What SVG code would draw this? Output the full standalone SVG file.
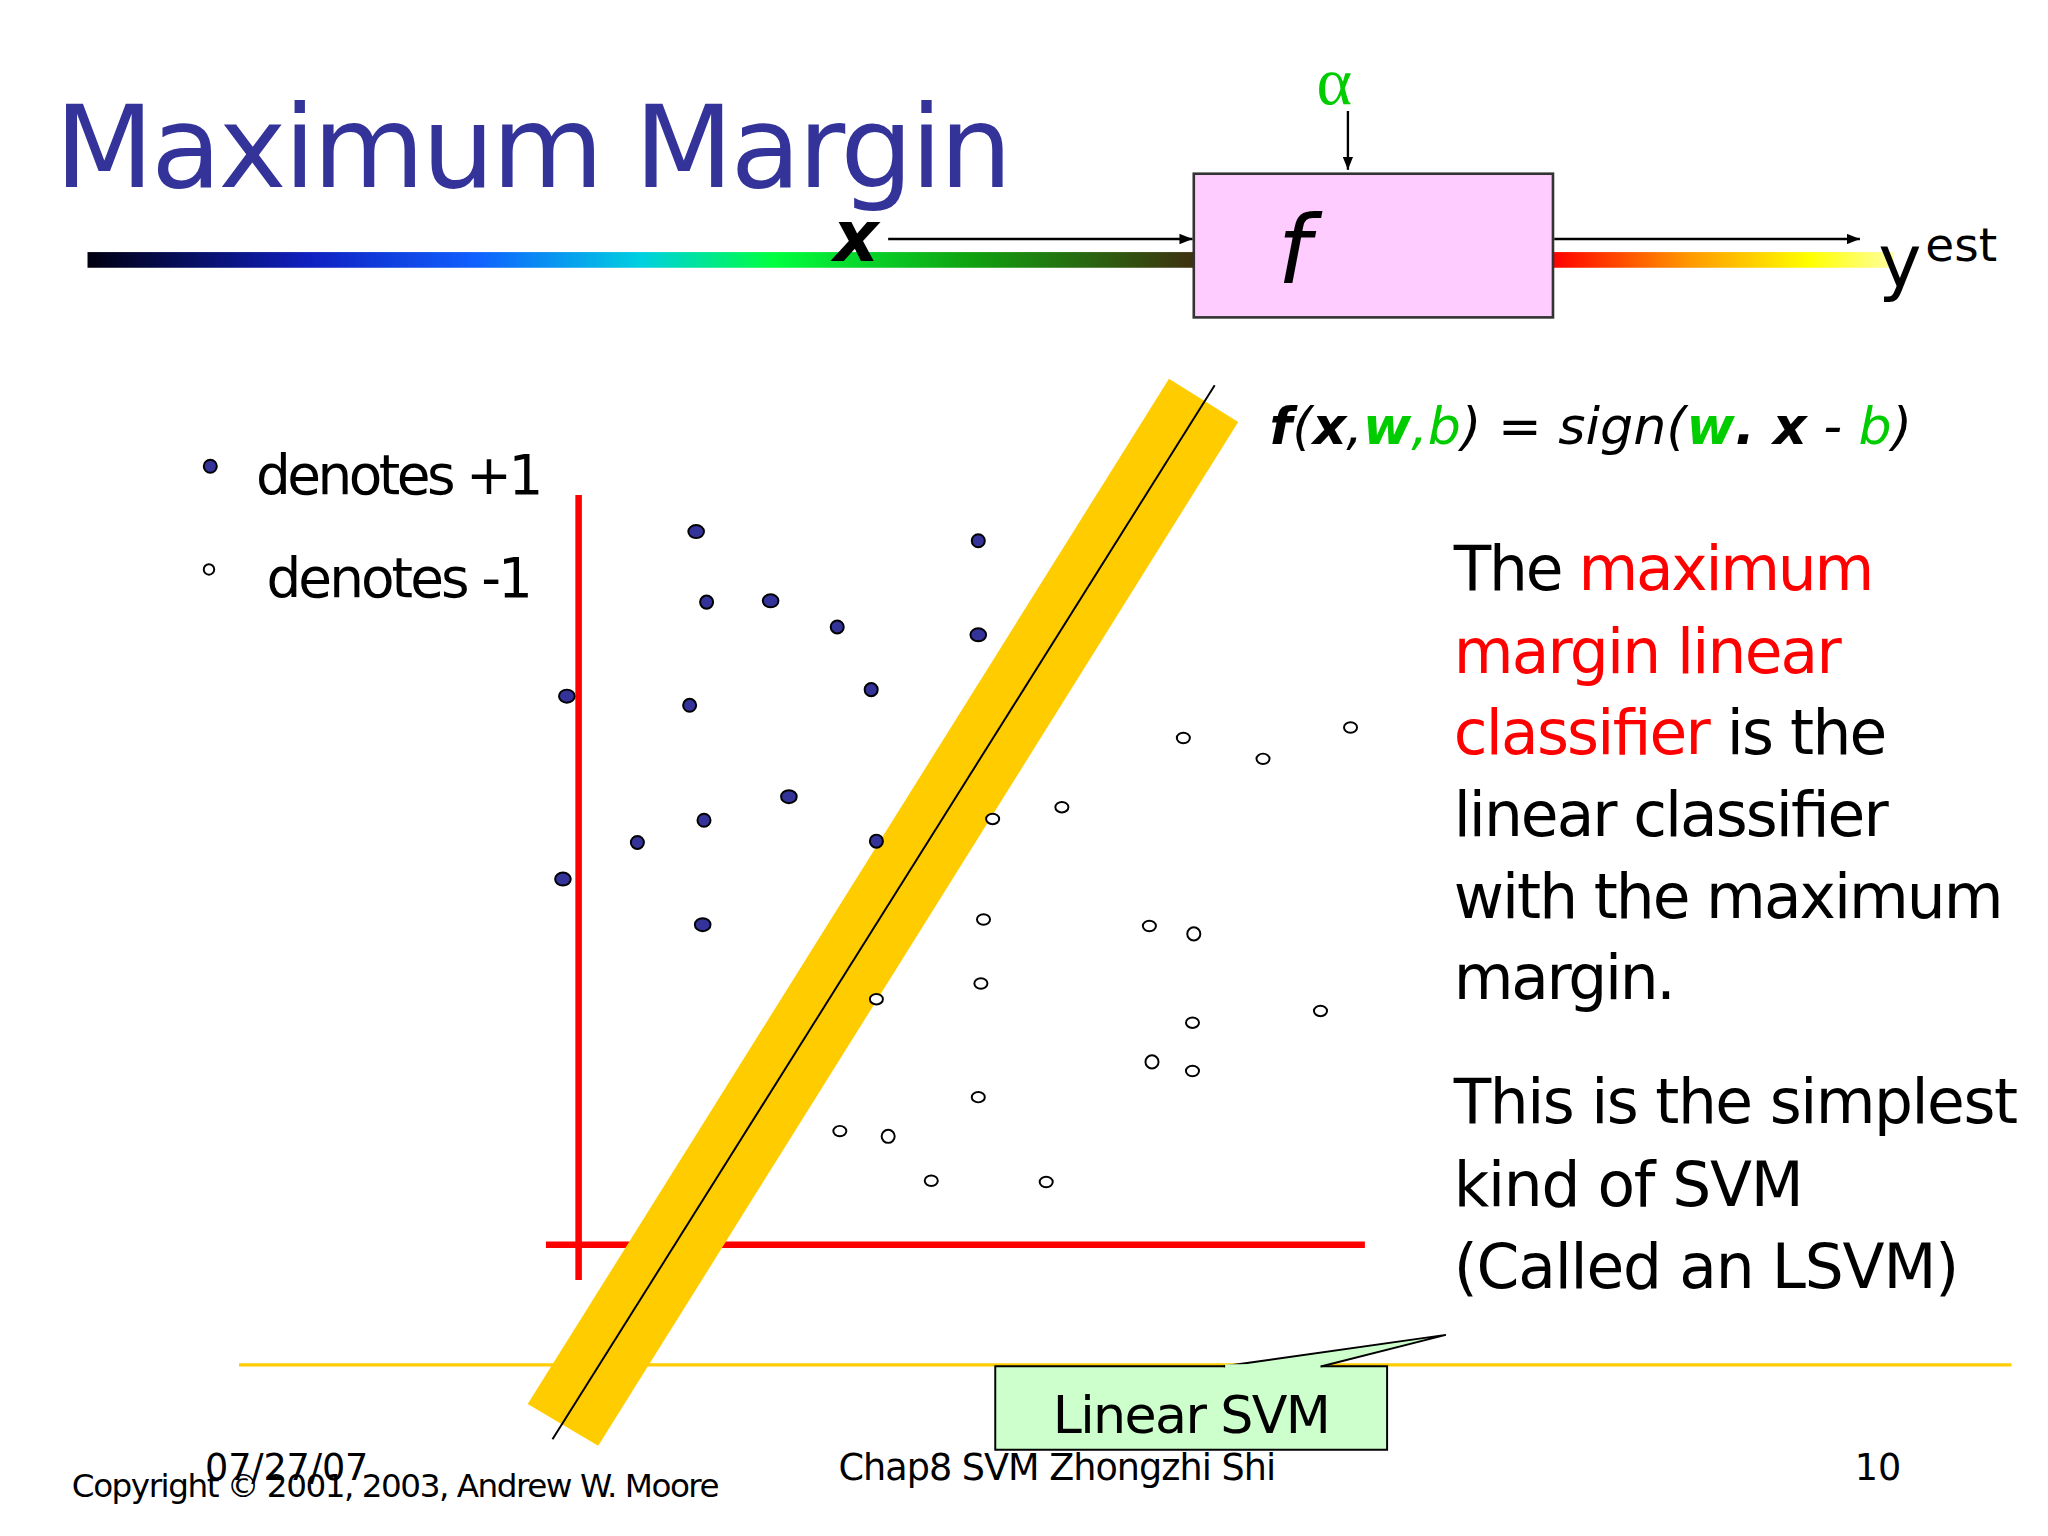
<svg xmlns="http://www.w3.org/2000/svg" width="2048" height="1536" viewBox="0 0 2048 1536">
<defs>
<linearGradient id="g1" x1="0" x2="1" y1="0" y2="0">
<stop offset="0" stop-color="#000010"/><stop offset="0.2" stop-color="#1020c0"/><stop offset="0.35" stop-color="#1060ff"/><stop offset="0.5" stop-color="#00d0e0"/><stop offset="0.62" stop-color="#00ff40"/><stop offset="0.8" stop-color="#10a010"/><stop offset="1" stop-color="#403010"/>
</linearGradient>
<linearGradient id="g2" x1="0" x2="1" y1="0" y2="0">
<stop offset="0" stop-color="#ff0000"/><stop offset="0.4" stop-color="#ff9900"/><stop offset="0.75" stop-color="#ffff00"/><stop offset="1" stop-color="#ffffa0"/>
</linearGradient>
<marker id="ah" markerWidth="10" markerHeight="8" refX="10" refY="4" orient="auto" markerUnits="userSpaceOnUse"><path d="M0,0 L10,4 L0,8 z" fill="#000"/></marker>
<style>
.t{font-family:"DejaVu Sans",Verdana,sans-serif}
.p{fill:#333399;stroke:#000;stroke-width:1.5}
.n{fill:#fff;stroke:#000;stroke-width:1.5}
.r{font-family:"DejaVu Sans",Verdana,sans-serif;font-size:47px;fill:#000}
.red{fill:#ff0000}
</style>
</defs>
<rect width="2048" height="1536" fill="#fff"/>
<g transform="scale(1.30612)">
<g id="title"><text class="t" x="42" y="143" font-size="88" fill="#333399" textLength="733">Maximum Margin</text></g>
<g id="bars">
<rect x="67" y="193" width="848" height="12" fill="url(#g1)"/>
<rect x="1189" y="193" width="261" height="12" fill="url(#g2)"/>
<line x1="183" y1="1045" x2="1540" y2="1045" stroke="#ffcc00" stroke-width="2.5"/>
</g>
<g id="box-f"><rect x="914" y="133" width="275" height="110" fill="#ffccff" stroke="#333" stroke-width="2"/>
<text class="t" x="978" y="217" font-size="72" font-style="italic">f</text></g>
<g id="alpha"><text x="1008" y="80" font-family="Liberation Serif,serif" font-size="52" fill="#00cc00">α</text></g>
<g id="xin"><text class="t" x="638" y="200" font-size="54" font-weight="bold" font-style="italic">x</text></g>
<g id="yest"><text class="t" x="1438" y="220" font-size="56">y</text><text class="t" x="1474" y="200" font-size="36">est</text></g>
<g id="connectors" stroke="#000" stroke-width="1.8" fill="none">
<line x1="1032" y1="85" x2="1032" y2="130" marker-end="url(#ah)"/>
<line x1="680" y1="183" x2="913" y2="183" marker-end="url(#ah)"/>
<line x1="1190" y1="183" x2="1424" y2="183" marker-end="url(#ah)"/>
</g>
<g id="formula"><text class="t" x="972" y="340" font-size="40" font-style="italic" textLength="492"><tspan font-weight="bold">f</tspan>(<tspan font-weight="bold">x</tspan>,<tspan font-weight="bold" fill="#00cc00">w</tspan><tspan fill="#00cc00">,b</tspan>) = sign(<tspan font-weight="bold" fill="#00cc00">w</tspan><tspan font-weight="bold">. x</tspan> - <tspan fill="#00cc00">b</tspan>)</text></g>
<g id="legend">
<ellipse class="p" cx="161" cy="357" rx="5" ry="5"/><text class="t" x="196" y="378" font-size="42" textLength="220">denotes +1</text>
<ellipse class="n" cx="160" cy="436" rx="4" ry="4"/><text class="t" x="204" y="457" font-size="42" textLength="204">denotes -1</text>
</g>
<g id="axes" stroke="#ff0000" stroke-width="5"><line x1="443" y1="379" x2="443" y2="980"/><line x1="418" y1="953" x2="1045" y2="953"/></g>
<g id="band"><polygon points="895,290 948,323 458,1107 404,1075" fill="#ffcc00"/><line x1="423" y1="1102" x2="930" y2="295" stroke="#000" stroke-width="1.5"/></g>
<g id="points">
<ellipse class="p" cx="533" cy="407" rx="6" ry="5"/><ellipse class="p" cx="749" cy="414" rx="5" ry="5"/><ellipse class="p" cx="541" cy="461" rx="5" ry="5"/><ellipse class="p" cx="590" cy="460" rx="6" ry="5"/><ellipse class="p" cx="641" cy="480" rx="5" ry="5"/><ellipse class="p" cx="749" cy="486" rx="6" ry="5"/><ellipse class="p" cx="434" cy="533" rx="6" ry="5"/><ellipse class="p" cx="528" cy="540" rx="5" ry="5"/><ellipse class="p" cx="667" cy="528" rx="5" ry="5"/><ellipse class="p" cx="604" cy="610" rx="6" ry="5"/><ellipse class="p" cx="539" cy="628" rx="5" ry="5"/><ellipse class="p" cx="488" cy="645" rx="5" ry="5"/><ellipse class="p" cx="671" cy="644" rx="5" ry="5"/><ellipse class="p" cx="431" cy="673" rx="6" ry="5"/><ellipse class="p" cx="538" cy="708" rx="6" ry="5"/>
<ellipse class="n" cx="906" cy="565" rx="5" ry="4"/><ellipse class="n" cx="967" cy="581" rx="5" ry="4"/><ellipse class="n" cx="1034" cy="557" rx="5" ry="4"/><ellipse class="n" cx="813" cy="618" rx="5" ry="4"/><ellipse class="n" cx="760" cy="627" rx="5" ry="4"/><ellipse class="n" cx="753" cy="704" rx="5" ry="4"/><ellipse class="n" cx="880" cy="709" rx="5" ry="4"/><ellipse class="n" cx="914" cy="715" rx="5" ry="5"/><ellipse class="n" cx="751" cy="753" rx="5" ry="4"/><ellipse class="n" cx="671" cy="765" rx="5" ry="4"/><ellipse class="n" cx="913" cy="783" rx="5" ry="4"/><ellipse class="n" cx="1011" cy="774" rx="5" ry="4"/><ellipse class="n" cx="882" cy="813" rx="5" ry="5"/><ellipse class="n" cx="913" cy="820" rx="5" ry="4"/><ellipse class="n" cx="749" cy="840" rx="5" ry="4"/><ellipse class="n" cx="643" cy="866" rx="5" ry="4"/><ellipse class="n" cx="680" cy="870" rx="5" ry="5"/><ellipse class="n" cx="713" cy="904" rx="5" ry="4"/><ellipse class="n" cx="801" cy="905" rx="5" ry="4"/>
</g>
<g id="desc">
<text class="r" x="1113" y="452" textLength="322">The <tspan class="red">maximum</tspan></text>
<text class="r red" x="1113" y="515" textLength="297">margin linear</text>
<text class="r" x="1113" y="577" textLength="332"><tspan class="red">classifier</tspan> is the</text>
<text class="r" x="1113" y="640" textLength="333">linear classifier</text>
<text class="r" x="1113" y="703" textLength="421">with the maximum</text>
<text class="r" x="1113" y="765" textLength="170">margin.</text>
<text class="r" x="1113" y="860" textLength="432">This is the simplest</text>
<text class="r" x="1113" y="923" textLength="268">kind of SVM</text>
<text class="r" x="1113" y="986" textLength="387">(Called an LSVM)</text>
</g>
<g id="callout">
<polygon points="762,1046 1062,1046 1062,1110 762,1110" fill="#ccffcc" stroke="#000" stroke-width="1.5"/>
<polygon points="937,1046 1107,1022 1012,1046" fill="#ccffcc" stroke="#000" stroke-width="1.5"/>
<line x1="938" y1="1046" x2="1011" y2="1046" stroke="#ccffcc" stroke-width="3"/>
<text class="t" x="806" y="1097" font-size="40" textLength="213">Linear SVM</text>
</g>
<g id="footer" class="t">
<text x="157" y="1133" font-size="28" textLength="125">07/27/07</text>
<text x="55" y="1146" font-size="25" textLength="496">Copyright © 2001, 2003, Andrew W. Moore</text>
<text x="642" y="1133" font-size="28" textLength="335">Chap8 SVM Zhongzhi Shi</text>
<text x="1420" y="1133" font-size="28">10</text>
</g>
</g>
</svg>
